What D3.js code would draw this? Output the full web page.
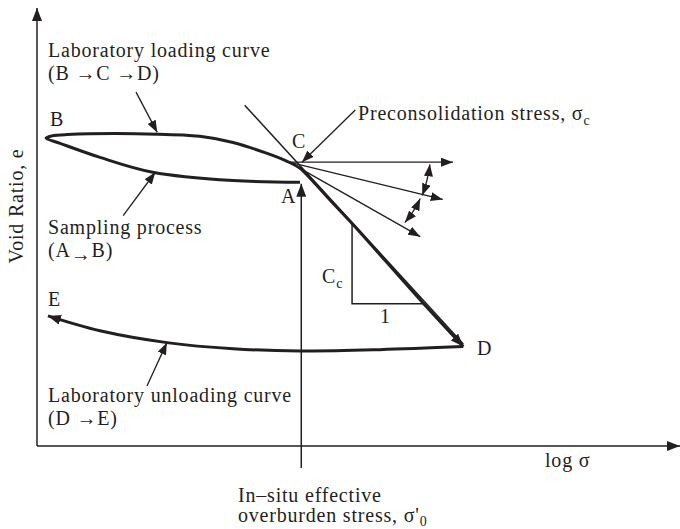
<!DOCTYPE html>
<html><head><meta charset="utf-8">
<script src="https://cdn.jsdelivr.net/npm/d3@7"></script>
<style>
html,body{margin:0;padding:0;background:#fff;}
text{font-family:"Liberation Serif","Times New Roman",serif;font-size:20px;fill:#231f20;letter-spacing:0.8px;}
</style></head><body>
<svg id="chart" width="680" height="529"></svg>
<script>
// Schematic e–log σ diagram in arbitrary units: x = log σ, y = void ratio e
const logSigmaDomain = [0, 10];
const voidRatioDomain = [0, 10];

// Sampling (unloading during extraction): A -> B
const samplingAB = [[4.09,6.02],[3.05,6.06],[1.80,6.25],[0.98,6.59],[0.36,6.91],[0.14,7.03]];
// Laboratory loading: B -> C -> D
const loadingBCD = [[0.14,7.03],[0.23,7.08],[0.47,7.11],[1.87,7.12],[2.53,7.07],[3.05,6.93],[3.58,6.68],[3.89,6.50],[4.09,6.34],[4.28,6.06],[4.56,5.61],[4.90,5.08],[6.00,3.27],[6.63,2.27]];
// Laboratory unloading: D -> E
const unloadingDE = [[6.63,2.27],[5.33,2.20],[4.09,2.17],[3.05,2.22],[2.02,2.36],[0.98,2.63],[0.17,2.97]];
// Virgin compression line
const compressionLine = [[3.23,7.78],[6.63,2.33]];
// Casagrande construction at C: horizontal, tangent and bisector rays
const pointC = [3.92,6.48];
const rayEnds = [[6.47,6.48],[6.31,5.63],[5.96,4.78]];
const angleMarks = [[[6.11,6.43],[5.99,5.72]],[[5.96,5.65],[5.72,5.10]]];
// Slope triangle for the compression index Cc
const slopeTriangle = [[4.90,5.08],[4.90,3.25],[6.00,3.25]];
// In-situ effective overburden stress σ'0
const inSituLogSigma = 4.11;
const inSituArrow = [-0.5, 5.99];
// Pointer arrows from annotations
const pointers = [
  [[1.54,8.08],[1.87,7.16]],
  [[1.34,5.26],[1.84,6.25]],
  [[4.95,7.67],[4.12,6.48]],
  [[1.71,1.37],[2.02,2.36]]
];

const W = 680, H = 529;
const x = d3.scaleLinear().domain(logSigmaDomain).range([37, 680]);
const y = d3.scaleLinear().domain(voidRatioDomain).range([446, 8]);

const svg = d3.select("#chart");
const ink = "#231f20";

const defs = svg.append("defs");
function marker(id, w, h) {
  defs.append("marker")
    .attr("id", id)
    .attr("viewBox", `0 0 ${w} ${h}`)
    .attr("refX", w).attr("refY", h / 2)
    .attr("markerWidth", w).attr("markerHeight", h)
    .attr("markerUnits", "userSpaceOnUse")
    .attr("orient", "auto-start-reverse")
    .append("path")
    .attr("d", `M0,0L${w},${h/2}L0,${h}Z`)
    .attr("fill", ink);
}
marker("head", 13, 10);
marker("headSmall", 12, 9);

const line = d3.line().x(d => x(d[0])).y(d => y(d[1]));
const curve = d3.line().x(d => x(d[0])).y(d => y(d[1])).curve(d3.curveCatmullRom.alpha(0.5));

// axes (no ticks; arrowed lines)
const xAxis = d3.axisBottom(x).ticks(0).tickSizeOuter(0);
const gx = svg.append("g").attr("transform", `translate(0,${y(0)})`).call(xAxis);
gx.select(".domain").remove();
svg.append("line")
  .attr("x1", x(0)).attr("y1", y(0)).attr("x2", x(10)).attr("y2", y(0))
  .attr("stroke", ink).attr("stroke-width", 1.5).attr("marker-end", "url(#head)");
svg.append("line")
  .attr("x1", x(0)).attr("y1", y(0)).attr("x2", x(0)).attr("y2", y(10))
  .attr("stroke", ink).attr("stroke-width", 1.5).attr("marker-end", "url(#head)");

// in-situ stress arrow up to A
svg.append("line")
  .attr("x1", x(inSituLogSigma)).attr("y1", y(inSituArrow[0]))
  .attr("x2", x(inSituLogSigma)).attr("y2", y(inSituArrow[1]))
  .attr("stroke", ink).attr("stroke-width", 1.5).attr("marker-end", "url(#head)");

// compression line
svg.append("path").attr("d", line(compressionLine))
  .attr("fill", "none").attr("stroke", ink).attr("stroke-width", 1.5);

// rays from C
rayEnds.forEach(e => {
  svg.append("path").attr("d", line([pointC, e]))
    .attr("fill", "none").attr("stroke", ink).attr("stroke-width", 1.3)
    .attr("marker-end", "url(#headSmall)");
});

// angle marks (double-headed arcs)
angleMarks.forEach(([a, b]) => {
  const cx = x(pointC[0]), cy = y(pointC[1]);
  const ax = x(a[0]), ay = y(a[1]), bx = x(b[0]), by = y(b[1]);
  const mx = (ax + bx) / 2, my = (ay + by) / 2;
  const dx = mx - cx, dy = my - cy, len = Math.hypot(dx, dy);
  const qx = mx + dx / len * 2, qy = my + dy / len * 2;
  svg.append("path").attr("d", `M${ax},${ay}Q${qx},${qy} ${bx},${by}`)
    .attr("fill", "none").attr("stroke", ink).attr("stroke-width", 1.3)
    .attr("marker-start", "url(#headSmall)").attr("marker-end", "url(#headSmall)");
});

// slope triangle
svg.append("path").attr("d", line(slopeTriangle))
  .attr("fill", "none").attr("stroke", ink).attr("stroke-width", 1.5);

// sampling + loading curve A -> B -> C -> D
svg.append("path").attr("d", curve(samplingAB.concat(loadingBCD.slice(1))))
  .attr("fill", "none").attr("stroke", ink).attr("stroke-width", 3)
  .attr("stroke-linejoin", "round").attr("marker-end", "url(#head)");

// unloading curve D -> E
svg.append("path").attr("d", curve(unloadingDE))
  .attr("fill", "none").attr("stroke", ink).attr("stroke-width", 3)
  .attr("marker-end", "url(#head)");

// annotation pointers
pointers.forEach(p => {
  svg.append("path").attr("d", line(p))
    .attr("fill", "none").attr("stroke", ink).attr("stroke-width", 1.3)
    .attr("marker-end", "url(#headSmall)");
});

// text
function label(px, py, parts, opts = {}) {
  const t = svg.append("text").attr("x", px).attr("y", py);
  if (opts.rotate) t.attr("transform", `rotate(${opts.rotate},${px},${py})`);
  if (opts.anchor) t.attr("text-anchor", opts.anchor);
  parts.forEach(p => {
    if (typeof p === "string") t.append("tspan").text(p);
    else {
      const s = t.append("tspan").text(p.t);
      if (p.dy) s.attr("dy", p.dy);
      if (p.size) s.style("font-size", p.size + "px");
    }
  });
  return t;
}

label(48, 57, ["Laboratory loading curve"]);
label(48, 80, ["(B \u2192C \u2192D)"]);
label(50, 126, ["B"]);
label(292, 148, ["C"]);
label(281, 203, ["A"]);
label(48, 234, ["Sampling process"]);
label(48, 257, ["(A", {t: "\u2192", dy: 4}, {t: "B)", dy: -4}]);
label(48, 306, ["E"]);
label(48, 402, ["Laboratory unloading curve"]);
label(48, 425, ["(D \u2192E)"]);
label(358, 120, ["Preconsolidation stress, \u03c3", {t: "c", dy: 5, size: 14}]);
label(322, 283, ["C", {t: "c", dy: 5, size: 14}]);
label(380, 323, ["1"]);
label(477, 355, ["D"]);
label(545, 467, ["log \u03c3"]);
label(238, 502, ["In\u2013situ effective"]);
label(238, 522, ["overburden stress, \u03c3'", {t: "0", dy: 4, size: 14}]);
label(23, 206, ["Void Ratio, e"], {rotate: -90, anchor: "middle"});
</script>
</body></html>
